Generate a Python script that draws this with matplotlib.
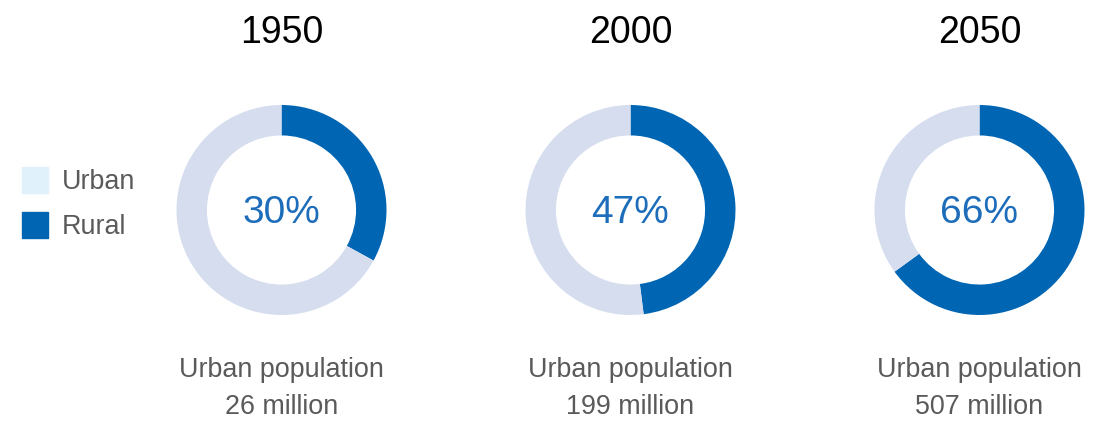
import matplotlib.pyplot as plt

plt.rcParams['font.family'] = ['Liberation Sans', 'DejaVu Sans']

years = ['1950', '2000', '2050']
pct_labels = ['30%', '47%', '66%']
# arc shares as drawn in the source picture
arc_share = [33, 48, 65]
urban_pop = ['26 million', '199 million', '507 million']
legend_labels = ['Urban', 'Rural']

dark = '#0066b3'
ring = '#d5ddef'
legend_light = '#e0f1fb'

W, H = 1100, 422
fig = plt.figure(figsize=(W / 100, H / 100), dpi=100)

centers_x = [281.5, 630.5, 979.5]
cy = 210
r = 105

for i, (yr, lab, share, pop) in enumerate(zip(years, pct_labels, arc_share, urban_pop)):
    cx = centers_x[i]
    ax = fig.add_axes([(cx - r) / W, (H - cy - r) / H, 2 * r / W, 2 * r / H])
    ax.pie([share, 100 - share], colors=[dark, ring], startangle=90, counterclock=False,
           radius=1, wedgeprops=dict(width=0.29, linewidth=0))
    ax.set_xlim(-1, 1)
    ax.set_ylim(-1, 1)
    ax.text(0, -0.03, lab, ha='center', va='center', fontsize=28, color='#1d6dbb')
    ax.axis('off')

    fig.text(cx / W, 1 - 33 / H, yr, ha='center', va='center', fontsize=27, color='black')
    fig.text(cx / W, 1 - 370 / H, 'Urban population', ha='center', va='center',
             fontsize=19.4, color='#5a5a5a')
    fig.text(cx / W, 1 - 407 / H, pop, ha='center', va='center', fontsize=19.4, color='#5a5a5a')

# legend
for lab, col, y in zip(legend_labels, [legend_light, dark], [180, 225]):
    fig.patches.append(plt.Rectangle((22 / W, 1 - (y + 13) / H), 26 / W, 26 / H,
                                     transform=fig.transFigure, color=col, figure=fig))
    fig.text(62 / W, 1 - (y + 2) / H, lab, ha='left', va='center', fontsize=19.4, color='#5a5a5a')

fig.savefig('out.png', dpi=100)
